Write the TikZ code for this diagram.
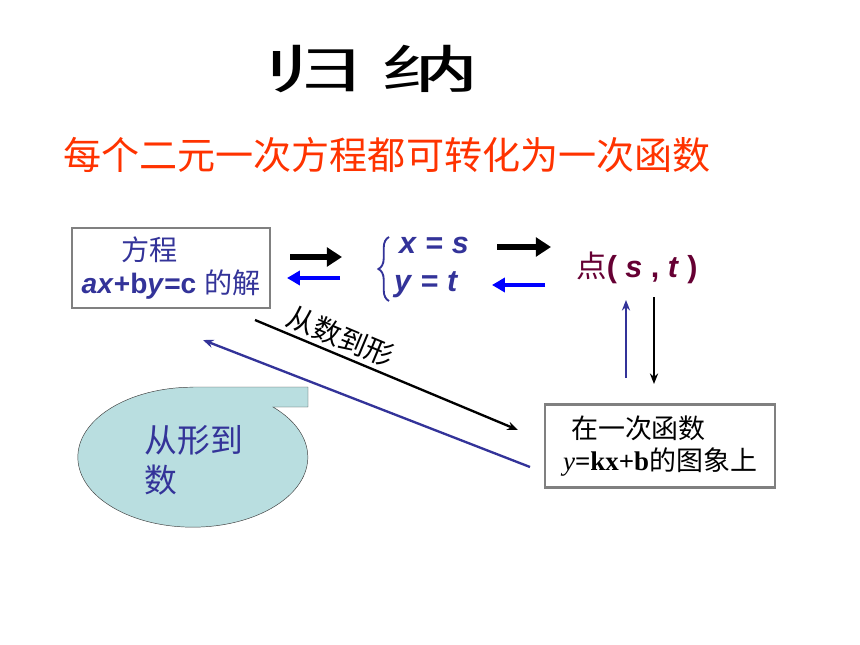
\documentclass[tikz,border=0pt]{standalone}
\usepackage{fontspec}
\setmainfont{Liberation Serif}
\setsansfont{Liberation Sans}
\newfontfamily\cjk{Noto Sans CJK SC}
\usetikzlibrary{arrows.meta,positioning,decorations.pathreplacing}
\definecolor{headred}{RGB}{255,51,0}
\definecolor{navy}{RGB}{51,51,153}
\definecolor{pblue}{RGB}{0,0,255}
\definecolor{wine}{RGB}{102,0,51}
\definecolor{callfill}{RGB}{185,222,224}
\definecolor{boxgray}{RGB}{128,128,128}
\tikzset{
    %Define style for boxes
    kasten/.style={
           rectangle,
           draw = boxgray, line width = 2pt,
           fill = white},
    % Define arrow styles
    fatblk/.style={
           -{Triangle[length=13pt,width=16pt]},
           line width = 5pt},
    fatblu/.style={
           -{Triangle[length=11pt,width=12pt]},
           pblue, line width = 3.5pt},
    thinblk/.style={
           -{Stealth[length=9pt,width=7pt]},
           line width = 2pt},
    thinblu/.style={
           -{Stealth[length=9pt,width=7pt]},
           navy, line width = 2pt},
    klammer/.style={
           decorate, decoration={brace, amplitude=9pt},
           navy, line width = 1.6pt}
}
\begin{document}
\begin{tikzpicture}[x=0.03cm, y=-0.03cm]
\useasboundingbox (0,0) rectangle (860,645);
 %titles
\node[font=\cjk\fontsize{44}{44}\selectfont, xscale=1.9] (title) at (372,69) {归\hspace{0.2em}纳};
\node[text=headred, font=\cjk\fontsize{32.5}{32.5}\selectfont] (head) at (387,155) {每个二元一次方程都可转化为一次函数};
 %nodes
\node[kasten, minimum width=5.94cm, minimum height=2.4cm, align=left, text=navy,
      font=\sffamily\fontsize{24}{28}\selectfont] (eqn) at (171,268)
      {\hspace*{1.4em}{\cjk 方程}\\\textbf{\textit{ax}+b\textit{y}=c} {\cjk 的解}};
\node[text=navy, font=\sffamily\bfseries\fontsize{26}{26}\selectfont, anchor=west] (xs) at (395,245) {\textit{x} = \textit{s}};
\node[text=navy, font=\sffamily\bfseries\fontsize{26}{26}\selectfont, anchor=west] (yt) at (390,285) {\textit{y} = \textit{t}};
\node[text=wine, font=\sffamily\fontsize{26}{26}\selectfont] (pnt) at (637,268)
      {{\cjk 点}\textbf{( \textit{s} , \textit{t} )}};
\node[kasten, minimum width=6.9cm, minimum height=2.49cm, align=left,
      font=\rmfamily\fontsize{23}{28}\selectfont] (graph) at (660,446)
      {\hspace*{0.3em}{\cjk 在一次函数}\\\textit{y}\textbf{=kx+b}{\cjk 的图象上}};
 %brace
\coordinate (bra) at (389,301); \coordinate (brb) at (389,237);
\draw[klammer] (bra) -- (brb);
 %callout
\draw[fill=callfill, draw=black!75, thin] (193,387) -- (308,387) -- (308,407) -- (273,407)
      arc[start angle=-45.8, end angle=270, x radius=115, y radius=70] -- cycle;
\node[text=navy, font=\cjk\fontsize{28}{34}\selectfont, align=left] (xtos) at (194,460) {从形到\\数};
 %arrow ends
\coordinate (r1s) at (290,257); \coordinate (r1e) at (342,257);
\coordinate (l1s) at (340,278); \coordinate (l1e) at (287,278);
\coordinate (r2s) at (497,247); \coordinate (r2e) at (551,247);
\coordinate (l2s) at (545,285); \coordinate (l2e) at (492,285);
\coordinate (ups) at (626,378); \coordinate (upe) at (626,300);
\coordinate (dns) at (654,297); \coordinate (dne) at (654,384);
\coordinate (d1s) at (255,320); \coordinate (d1e) at (518,430);
\coordinate (d2s) at (530,467); \coordinate (d2e) at (203,340);
 %arrows
\draw[fatblk] (r1s) -- (r1e);
\draw[fatblu] (l1s) -- (l1e);
\draw[fatblk] (r2s) -- (r2e);
\draw[fatblu] (l2s) -- (l2e);
\draw[thinblu] (ups) -- (upe);
\draw[thinblk] (dns) -- (dne);
\draw[thinblk] (d1s) -- node[sloped, above, pos=0.3, font=\cjk\fontsize{24}{24}\selectfont] (ntof) {从数到形} (d1e);
\draw[thinblu] (d2s) -- (d2e);
\end{tikzpicture}
\end{document}
